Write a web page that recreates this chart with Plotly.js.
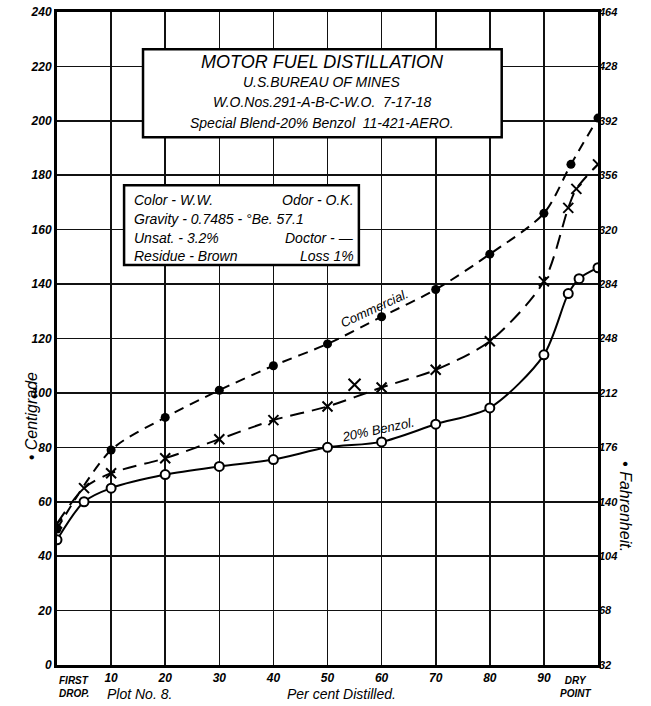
<!DOCTYPE html>
<html>
<head>
<meta charset="utf-8">
<script src="https://cdn.plot.ly/plotly-3.0.1.min.js"></script>
<style>html,body{margin:0;padding:0;background:#fff;}#chart{width:651px;height:706px;}</style>
</head>
<body>
<div id="chart"></div>
<script>
// Percent distilled (x) and temperature in °C (y)
const commercialPct = [0, 10, 20, 30, 40, 50, 60, 70, 80, 90, 95, 100];
const commercialC   = [50, 79, 91, 101, 110, 118, 128, 138, 151, 166, 184, 201];

const midPct = [0, 5, 10, 20, 30, 40, 50, 60, 70, 80, 90, 94.5, 96, 100];
const midC   = [52, 65, 70.5, 76, 83, 90, 95, 102, 108.5, 119, 141, 168, 175, 184];
const strayPct = [55];
const strayC   = [103];

const benzolPct = [0, 5, 10, 20, 30, 40, 50, 60, 70, 80, 90, 94.5, 96.5, 100];
const benzolC   = [46, 60, 65, 70, 73, 75.5, 80, 82, 88.5, 94.5, 114, 136.5, 142, 146];

const xTickVals = [10, 20, 30, 40, 50, 60, 70, 80, 90];
const xTickText = ['10', '20', '30', '40', '50', '60', '70', '80', '90'];
const cTickVals = [0, 20, 40, 60, 80, 100, 120, 140, 160, 180, 200, 220, 240];
const fTickVals = [32, 68, 104, 140, 176, 212, 248, 284, 320, 356, 392, 428, 464];

const FONT = 'Liberation Sans, Arial, sans-serif';
const tickFont = {family: FONT, size: 12, color: '#000', style: 'italic', weight: 700};

const traces = [
  {x: commercialPct, y: commercialC, mode: 'lines+markers', line: {shape: 'spline', smoothing: 0.8, color: '#000', width: 2, dash: '10px,7px'},
   marker: {symbol: 'circle', size: 9, color: '#000'}, showlegend: false},
  {x: midPct, y: midC, mode: 'lines+markers', line: {shape: 'spline', smoothing: 0.8, color: '#000', width: 2, dash: '14px,8px'},
   marker: {symbol: 'x-thin-open', size: 10, color: '#000', line: {color: '#000', width: 2}}, showlegend: false},
  {x: strayPct, y: strayC, mode: 'markers', marker: {symbol: 'x-thin-open', size: 12, color: '#000', line: {color: '#000', width: 2}}, showlegend: false},
  {x: benzolPct, y: benzolC, mode: 'lines+markers', line: {shape: 'spline', smoothing: 0.8, color: '#000', width: 2},
   marker: {symbol: 'circle', size: 9, color: '#fff', line: {color: '#000', width: 2}}, showlegend: false},
  {x: [0], y: [32], yaxis: 'y2', mode: 'markers', marker: {opacity: 0}, showlegend: false, hoverinfo: 'skip'}
];

const boxFont = (s) => ({family: FONT, size: s, color: '#000', style: 'italic'});
const ann = [];
function a(x, y, text, opts) {
  ann.push(Object.assign({x: x, y: y, xref: 'x', yref: 'y', text: text, showarrow: false, font: boxFont(14)}, opts || {}));
}
// Title box text
a(49, 221.5, 'MOTOR FUEL DISTILLATION', {font: boxFont(18)});
a(49, 214.2, 'U.S.BUREAU OF MINES', {font: boxFont(14)});
a(49, 206.8, 'W.O.Nos.291-A-B-C-W.O.  7-17-18', {font: boxFont(14)});
a(49, 199.1, 'Special Blend-20% Benzol  11-421-AERO.', {font: boxFont(14)});
// Properties box text
a(13.8, 170.8, 'Color - W.W.', {xanchor: 'left'});
a(55.2, 170.8, 'Odor - O.K.', {xanchor: 'right'});
a(13.8, 163.8, 'Gravity - 0.7485 - °Be. 57.1', {xanchor: 'left'});
a(13.8, 156.8, 'Unsat. - 3.2%', {xanchor: 'left'});
a(55.2, 156.8, 'Doctor - —', {xanchor: 'right'});
a(13.8, 150.2, 'Residue - Brown', {xanchor: 'left'});
a(55.2, 150.2, 'Loss 1%', {xanchor: 'right'});
// Curve labels
a(58.6, 131, 'Commercial.', {textangle: -25, font: boxFont(13)});
a(59.4, 86.5, '20% Benzol.', {textangle: -12, font: boxFont(13)});
// Axis labels
ann.push({xref: 'paper', yref: 'paper', x: -0.066, y: 0.31, text: '• Centigrade', textangle: -90, showarrow: false, font: boxFont(16)});
ann.push({xref: 'paper', yref: 'paper', x: 1.07, y: 0.17, text: '• Fahrenheit.', textangle: 90, showarrow: false, font: boxFont(16)});
ann.push({xref: 'paper', yref: 'paper', x: 0.0, y: -0.012, xanchor: 'left', yanchor: 'top', align: 'left', text: 'FIRST<br>DROP.', showarrow: false, font: {family: FONT, size: 10, style: 'italic', weight: 700, color: '#000'}});
ann.push({xref: 'paper', yref: 'paper', x: 0.99, y: -0.012, xanchor: 'right', yanchor: 'top', align: 'center', text: 'DRY<br>POINT', showarrow: false, font: {family: FONT, size: 10, style: 'italic', weight: 700, color: '#000'}});
ann.push({xref: 'paper', yref: 'paper', x: 0.088, y: -0.0295, xanchor: 'left', yanchor: 'top', text: 'Plot No. 8.', showarrow: false, font: boxFont(14)});
ann.push({xref: 'paper', yref: 'paper', x: 0.525, y: -0.0295, xanchor: 'center', yanchor: 'top', text: 'Per cent Distilled.', showarrow: false, font: boxFont(14)});

const layout = {
  width: 651, height: 706,
  margin: {l: 57, r: 53, t: 12, b: 41},
  paper_bgcolor: '#fff', plot_bgcolor: '#fff',
  xaxis: {range: [0, 100], tickvals: xTickVals, ticktext: xTickText, showgrid: true, gridcolor: '#111', gridwidth: 1.6,
          showline: true, linecolor: '#000', linewidth: 3, mirror: true, zeroline: false, ticks: '', tickfont: tickFont, ticklabelstandoff: 0, fixedrange: true},
  yaxis: {range: [0, 240], tickvals: cTickVals, showgrid: true, gridcolor: '#111', gridwidth: 1.6,
          showline: true, linecolor: '#000', linewidth: 3, mirror: true, zeroline: false, ticks: '', tickfont: tickFont, fixedrange: true},
  yaxis2: {range: [32, 464], tickvals: fTickVals, overlaying: 'y', side: 'right', showgrid: false, zeroline: false,
           showline: false, ticks: '', tickfont: Object.assign({}, tickFont, {size: 11}), fixedrange: true},
  shapes: [
    {type: 'rect', xref: 'x', yref: 'y', x0: 15.9, x1: 82.2, y0: 194, y1: 226.3, fillcolor: '#fff', line: {color: '#000', width: 2.5}, layer: 'between'},
    {type: 'rect', xref: 'x', yref: 'y', x0: 12.4, x1: 55.8, y0: 147, y1: 176.3, fillcolor: '#fff', line: {color: '#000', width: 2.5}, layer: 'between'}
  ],
  annotations: ann,
  showlegend: false
};

Plotly.newPlot('chart', traces, layout, {displayModeBar: false, staticPlot: true});
</script>
</body>
</html>
